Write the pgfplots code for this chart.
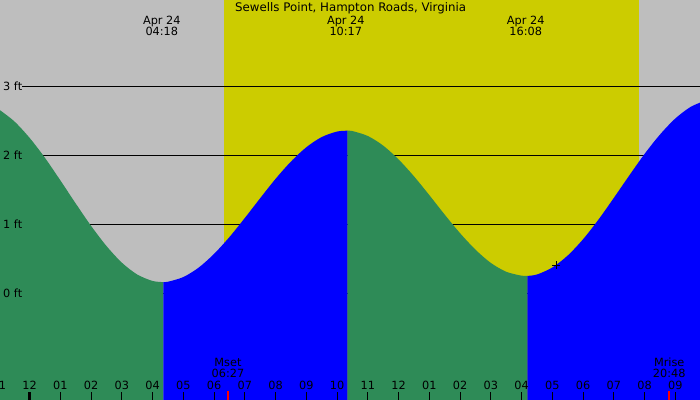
\documentclass[border=0pt]{standalone}
\usepackage{fontspec}
\setmainfont{DejaVu Sans}
\usepackage{pgfplots}
\usepgfplotslibrary{fillbetween}
\pgfplotsset{compat=1.18}
\definecolor{bggrey}{HTML}{BEBEBE}
\definecolor{dayyel}{HTML}{CCCC00}
\definecolor{ebbgreen}{HTML}{2E8B57}
\definecolor{floodblue}{HTML}{0000FF}
\newcommand\lf{\fontsize{11.3}{13.5}\selectfont}
\newcommand\tk[2]{\draw[black, line width=1pt] (axis cs:#1,-1.60) -- (axis cs:#1,-1.437);
  \node[anchor=base, inner sep=0pt, font=\lf] at (axis cs:#1,-1.408) {#2};}
\begin{document}
\begin{tikzpicture}
\begin{axis}[width=700pt, height=400pt, scale only axis,
  xmin=-0.963, xmax=21.802, ymin=-1.554, ymax=4.260,
  axis line style={draw=none}, xtick=\empty, ytick=\empty, clip=true,
  fill between/on layer=main]
% background and daylight
\addplot[fill=bggrey, draw=none] coordinates {(-2,-2) (-2,5) (23,5) (23,-2)} -- cycle;
\addplot[fill=dayyel, draw=none] coordinates {(6.322,-2) (6.322,5) (19.818,5) (19.818,-2)} -- cycle;
% datum lines
\addplot[black, line width=1pt] coordinates {(-0.247,3) (23,3)};
\addplot[black, line width=1pt] coordinates {(-0.247,2) (23,2)};
\addplot[black, line width=1pt] coordinates {(-0.247,1) (23,1)};
\addplot[black, line width=1pt] coordinates {(-0.247,0) (23,0)};
% water: falling (green) and rising (blue)
\addplot[name path=A, draw=none, smooth] coordinates {(-1.0,2.670) (-0.5,2.497) (0,2.256) (0.5,1.965) (1,1.638) (1.5,1.302) (2,0.976) (2.5,0.684) (3,0.442) (3.5,0.270) (4,0.176) (4.35,0.160)};
\addplot[name path=Ab, draw=none] coordinates {(-1.0,-2) (4.35,-2)};
\addplot[fill=ebbgreen, draw=none] fill between[of=A and Ab];
\addplot[name path=B, draw=none, smooth] coordinates {(4.35,0.160) (4.5,0.165) (5,0.233) (5.5,0.371) (6,0.570) (6.5,0.815) (7,1.092) (7.5,1.380) (8,1.661) (8.5,1.912) (9,2.120) (9.5,2.268) (10,2.348) (10.34,2.360)};
\addplot[name path=Bb, draw=none] coordinates {(4.35,-2) (10.34,-2)};
\addplot[fill=floodblue, draw=none] fill between[of=B and Bb];
\addplot[name path=C, draw=none, smooth] coordinates {(10.34,2.360) (10.5,2.355) (11,2.283) (11.5,2.143) (12,1.942) (12.5,1.697) (13,1.423) (13.5,1.140) (14,0.870) (14.5,0.631) (15,0.438) (15.5,0.310) (16,0.253) (16.19,0.250)};
\addplot[name path=Cb, draw=none] coordinates {(10.34,-2) (16.19,-2)};
\addplot[fill=ebbgreen, draw=none] fill between[of=C and Cb];
\addplot[name path=D, draw=none, smooth] coordinates {(16.19,0.250) (16.5,0.270) (17,0.372) (17.5,0.546) (18,0.783) (18.5,1.068) (19,1.384) (19.5,1.708) (20,2.023) (20.5,2.304) (21,2.538) (21.5,2.707) (22,2.802)};
\addplot[name path=Db, draw=none] coordinates {(16.19,-2) (22,-2)};
\addplot[fill=floodblue, draw=none] fill between[of=D and Db];
% datum labels
\node[anchor=base west, inner sep=0pt, font=\lf] at (axis cs:-0.865,2.9375) {3 ft};
\node[anchor=base west, inner sep=0pt, font=\lf] at (axis cs:-0.865,1.9375) {2 ft};
\node[anchor=base west, inner sep=0pt, font=\lf] at (axis cs:-0.865,0.9375) {1 ft};
\node[anchor=base west, inner sep=0pt, font=\lf] at (axis cs:-0.865,-0.0625) {0 ft};
% current time marker
\addplot[only marks, mark=+, mark size=4pt, black, line width=1pt] coordinates {(17.12,0.408)};
% top labels
\node[anchor=base, inner sep=0pt, font=\fontsize{11.8}{14}\selectfont] at (axis cs:10.44,4.100) {Sewells Point, Hampton Roads, Virginia};
\node[anchor=base, inner sep=0pt, font=\lf] at (axis cs:4.30,3.907) {Apr 24};
\node[anchor=base, inner sep=0pt, font=\lf] at (axis cs:4.30,3.737) {04:18};
\node[anchor=base, inner sep=0pt, font=\lf] at (axis cs:10.283,3.907) {Apr 24};
\node[anchor=base, inner sep=0pt, font=\lf] at (axis cs:10.283,3.737) {10:17};
\node[anchor=base, inner sep=0pt, font=\lf] at (axis cs:16.133,3.907) {Apr 24};
\node[anchor=base, inner sep=0pt, font=\lf] at (axis cs:16.133,3.737) {16:08};
% moon labels
\node[anchor=base, inner sep=0pt, font=\lf] at (axis cs:6.45,-1.060) {Mset};
\node[anchor=base, inner sep=0pt, font=\lf] at (axis cs:6.45,-1.230) {06:27};
\node[anchor=base, inner sep=0pt, font=\lf] at (axis cs:20.8,-1.060) {Mrise};
\node[anchor=base, inner sep=0pt, font=\lf] at (axis cs:20.8,-1.230) {20:48};
% hour ticks
\tk{-1}{11}
\draw[black, line width=3pt] (axis cs:0,-1.60) -- (axis cs:0,-1.437);
\node[anchor=base, inner sep=0pt, font=\lf] at (axis cs:0,-1.408) {12};
\tk{1}{01}\tk{2}{02}\tk{3}{03}\tk{4}{04}\tk{5}{05}\tk{6}{06}\tk{7}{07}\tk{8}{08}\tk{9}{09}\tk{10}{10}
\tk{11}{11}\tk{12}{12}\tk{13}{01}\tk{14}{02}\tk{15}{03}\tk{16}{04}\tk{17}{05}\tk{18}{06}\tk{19}{07}\tk{20}{08}\tk{21}{09}
% moon ticks
\addplot[red, line width=1.5pt] coordinates {(6.45,-1.60) (6.45,-1.43)};
\addplot[red, line width=1.5pt] coordinates {(20.8,-1.60) (20.8,-1.43)};
\end{axis}
\pgfresetboundingbox
\useasboundingbox (current axis.south west) rectangle (current axis.north east);
\end{tikzpicture}
\end{document}
